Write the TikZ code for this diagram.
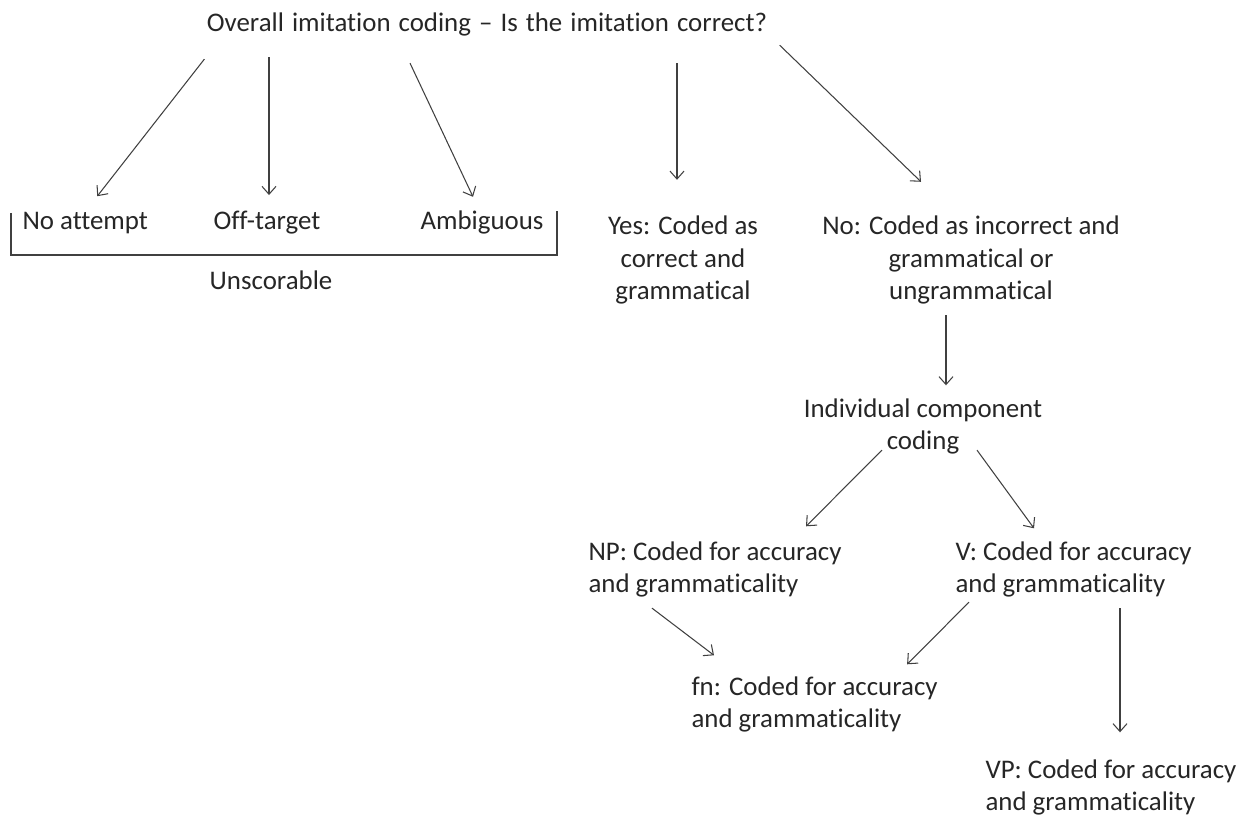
\documentclass[tikz,border=0pt]{standalone}
\usepackage{fontspec}
\setmainfont{Carlito}[Ligatures=NoCommon]
\usetikzlibrary{calc,arrows.meta}
\begin{document}
\begin{tikzpicture}[x=0.02cm,y=-0.02cm,
  every node/.style={inner sep=0,font=\fontsize{15.3}{18.5}\selectfont,text=black!85},
  every path/.style={line width=0.6pt,black!75},
  >={Straight Barb[length=4.5pt,width=8pt]}]
\useasboundingbox (0,0) rectangle (1252,820);
\node (title) at (487,32) [anchor=base] {\spaceskip=0.3em\relax Overall imitation coding – Is the imitation correct?};
\node (noatt) at (22,230) [anchor=base west] {No attempt};
\node (offtgt) at (267,230) [anchor=base] {Off-target};
\node (ambig) at (482,230) [anchor=base] {Ambiguous};
\node (unsc) at (271,290) [anchor=base] {Unscorable};
\draw (11,213) -- (11,255) -- (557,255) -- (557,211);
\node (yes) at (683,300) [anchor=base,align=center] {Yes: Coded as\\correct and\\grammatical};
\node (no) at (971,300) [anchor=base,align=center] {No: Coded as incorrect and\\grammatical or\\ungrammatical};
\node (indiv) at (923,450) [anchor=base,align=center] {Individual component\\coding};
\node (np) at (588,593) [anchor=base west,align=left] {NP: Coded for accuracy\\and grammaticality};
\node (v) at (955,593) [anchor=base west,align=left] {V: Coded for accuracy\\and grammaticality};
\node (fn) at (691,728) [anchor=base west,align=left] {fn: Coded for accuracy\\and grammaticality};
\node (vp) at (985,811) [anchor=base west,align=left] {VP: Coded for accuracy\\and grammaticality};
\draw [->] ($(title.south west)+(-2,22)$) -- ($(noatt.north)+(12,-16)$);
\draw [->] ($(offtgt.north |- title.south)+(2,20)$) -- ($(offtgt.north)+(2,-16)$);
\draw [->] ($(ambig.north west |- title.south)+(-10,26)$) -- ($(ambig.north)+(-9,-14)$);
\draw [->] ($(yes.north |- title.south)+(-6,26)$) -- ($(yes.north)+(-6,-36)$);
\draw [->] ($(title.south east)+(12,8)$) -- ($(no.north)+(-50,-34)$);
\draw [->] ($(no.south)+(-25,10)$) -- ($(indiv.north)+(23,-13)$);
\draw [->] ($(indiv.south)+(-41,-5)$) -- ($(np.north east)+(-36,-15)$);
\draw [->] ($(indiv.south)+(54,-5)$) -- ($(v.north west)+(79,-13)$);
\draw [->] ($(np.south west)+(64,10)$) -- ($(fn.north west)+(23,-21)$);
\draw [->] ($(v.south west)+(14,4)$) -- ($(fn.north east)+(-31,-12)$);
\draw [->] ($(v.south west)+(165,10)$) -- ($(vp.north west)+(135,-27)$);
\end{tikzpicture}
\end{document}
